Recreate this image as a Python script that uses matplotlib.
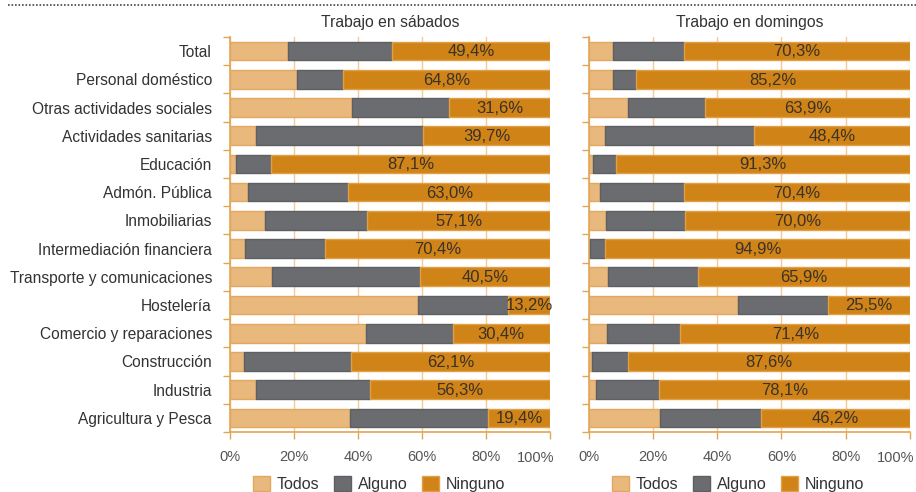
import matplotlib.pyplot as plt
from matplotlib.lines import Line2D
from matplotlib.patches import Patch
import numpy as np

plt.rcParams['font.family'] = ['Liberation Sans', 'DejaVu Sans']

# Datos (% de trabajadores)
sectores = ['Total', 'Personal doméstico', 'Otras actividades sociales',
            'Actividades sanitarias', 'Educación', 'Admón. Pública',
            'Inmobiliarias', 'Intermediación financiera',
            'Transporte y comunicaciones', 'Hostelería',
            'Comercio y reparaciones', 'Construcción', 'Industria',
            'Agricultura y Pesca']

sab_todos = [18.0, 21.0, 38.0, 8.0, 2.0, 5.6, 11.0, 4.7, 13.0, 58.6, 42.5, 4.5, 8.1, 37.6]
sab_ninguno = [49.4, 64.8, 31.6, 39.7, 87.1, 63.0, 57.1, 70.4, 40.5, 13.2, 30.4, 62.1, 56.3, 19.4]
sab_alguno = [round(100 - t - n, 1) for t, n in zip(sab_todos, sab_ninguno)]

dom_todos = [7.5, 7.5, 12.3, 5.0, 1.5, 3.7, 5.5, 0.5, 6.0, 46.4, 5.7, 1.0, 2.2, 22.1]
dom_ninguno = [70.3, 85.2, 63.9, 48.4, 91.3, 70.4, 70.0, 94.9, 65.9, 25.5, 71.4, 87.6, 78.1, 46.2]
dom_alguno = [round(100 - t - n, 1) for t, n in zip(dom_todos, dom_ninguno)]

c_todos = '#E8B87C'
c_alguno = '#6B6C6F'
c_ninguno = '#D08317'
c_eje = '#E2A552'
c_texto = '#333333'

fig = plt.figure(figsize=(9.16, 4.92), dpi=100)
axL = fig.add_axes([230 / 916, 0.122, 320 / 916, 0.8028])
axR = fig.add_axes([588.5 / 916, 0.122, 321.5 / 916, 0.8028])

y = np.arange(len(sectores))


def dibujar(ax, todos, alguno, ninguno, titulo, etiquetas):
    todos = np.array(todos)
    alguno = np.array(alguno)
    ninguno = np.array(ninguno)
    h = 0.66
    ax.barh(y, todos, height=h, color=c_todos, edgecolor='#E2A860', lw=1, zorder=3)
    ax.barh(y, alguno, left=todos, height=h, color=c_alguno, edgecolor='#5E5F62', lw=1, zorder=3)
    ax.barh(y, ninguno, left=todos + alguno, height=h, color=c_ninguno,
            edgecolor='#E0A04A', lw=1, zorder=3)
    for i in range(len(y)):
        xc = todos[i] + alguno[i] + ninguno[i] / 2
        ax.text(xc, y[i] + 0.03, f'{ninguno[i]:.1f}%'.replace('.', ','),
                ha='center', va='center', fontsize=12, color='#3A3228', zorder=4)
    ax.set_xlim(0, 100)
    ax.set_ylim(len(y) - 0.5, -0.5)
    ticks = np.arange(0, 101, 20)
    ax.set_xticks(ticks)
    # la etiqueta de 100% se pone aparte, alineada a la derecha
    ax.set_xticklabels([f'{v}%' if v < 100 else '' for v in ticks],
                       color='#555555', fontsize=10.5)
    ax.annotate('100%', xy=(100, 0), xycoords=('data', 'axes fraction'),
                xytext=(4, -19), textcoords='offset pixels', ha='right', va='top',
                color='#555555', fontsize=10.5, annotation_clip=False)
    ax.set_yticks(y)
    if etiquetas:
        ax.set_yticklabels(sectores, fontsize=11.2, color=c_texto)
    else:
        ax.set_yticklabels([])
    ax.set_yticks(np.arange(-0.5, len(y), 1), minor=True)
    ax.tick_params(axis='y', which='major', length=0, pad=13)
    ax.tick_params(axis='y', which='minor', length=5, color=c_eje, width=1)
    ax.tick_params(axis='x', length=5, color=c_eje, width=1, pad=8)
    ax.grid(axis='x', color='#F2CB95', lw=1, zorder=0)
    for s in ['top', 'right']:
        ax.spines[s].set_visible(False)
    for s in ['left', 'bottom']:
        ax.spines[s].set_color(c_eje)
        ax.spines[s].set_linewidth(1.2)
    ax.set_title(titulo, fontsize=11.3, color=c_texto, pad=7)


dibujar(axL, sab_todos, sab_alguno, sab_ninguno, 'Trabajo en sábados', True)
dibujar(axR, dom_todos, dom_alguno, dom_ninguno, 'Trabajo en domingos', False)

# línea punteada superior
fig.add_artist(Line2D([8 / 916, 1.0], [0.990, 0.990], color='#444444',
                      lw=1.2, linestyle=(0, (1, 1.1))))

handles = [Patch(facecolor=c_todos, edgecolor='#E2A860', label='Todos'),
           Patch(facecolor=c_alguno, edgecolor='#5E5F62', label='Alguno'),
           Patch(facecolor=c_ninguno, edgecolor='#E0A04A', label='Ninguno')]
for xc in [379 / 916, 738 / 916]:
    fig.legend(handles=handles, loc='center', bbox_to_anchor=(xc, 1 - 484 / 492),
               ncol=3, frameon=False, fontsize=11.5, handlelength=1.1,
               handleheight=1.1, handletextpad=0.4, columnspacing=0.9,
               labelcolor=c_texto)

plt.savefig('out.png', dpi=100)
